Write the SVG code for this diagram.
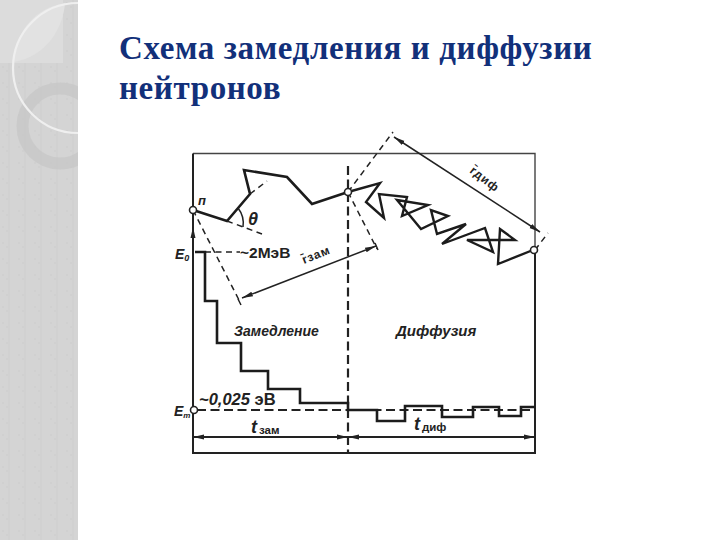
<svg xmlns="http://www.w3.org/2000/svg" width="720" height="540" viewBox="0 0 720 540">
<style>
.title{font-family:"Liberation Serif",serif;font-weight:bold;font-size:33px;letter-spacing:0.600px;fill:#12307a}
.lab{font-family:"Liberation Sans",sans-serif;font-style:italic;font-weight:bold;fill:#222}
.up{font-family:"Liberation Sans",sans-serif;font-weight:bold;fill:#222}
.thick{fill:none;stroke:#1c1c1c;stroke-width:2.600;stroke-linejoin:miter}
.zig{fill:none;stroke:#1c1c1c;stroke-width:2.400;stroke-linejoin:miter}
.frame{fill:none;stroke:#444;stroke-width:1.400}
.side{fill:none;stroke:#222;stroke-width:2}
.thin{fill:none;stroke:#222;stroke-width:1.500}
.axis{fill:none;stroke:#222;stroke-width:2}
.dash{fill:none;stroke:#222;stroke-width:1.500;stroke-dasharray:6 4.500}
.dashb{fill:none;stroke:#222;stroke-width:2.200;stroke-dasharray:9 4.500}
.node{fill:#fff;stroke:#222;stroke-width:1.600}
</style>
<defs>
<pattern id="dots" width="16" height="16" patternUnits="userSpaceOnUse"><rect width="16" height="16" fill="#d4d4d4"/><rect x="8" width="2" height="16" fill="#d1d1d1"/><rect x="2" y="2" width="2" height="2" fill="#d0d0d0"/><rect x="6" y="6" width="2" height="2" fill="#d0d0d0"/></pattern>
<clipPath id="strip"><rect width="78" height="540"/></clipPath>
<marker id="ah" markerWidth="12" markerHeight="8" refX="11" refY="4" orient="auto-start-reverse" markerUnits="userSpaceOnUse"><path d="M0 1.500L11 4L0 6.500z" fill="#222"/></marker>
</defs>
<rect width="720" height="540" fill="#fff"/>
<g id="backdrop" clip-path="url(#strip)">
<rect width="78" height="540" fill="url(#dots)"/>
<rect width="63" height="63" fill="#dcdcdc"/>
<path d="M65 3C63 28 47 56 14 62C16 30 35 8 65 3z" fill="#e2e2e2"/>
<circle cx="60" cy="126" r="37.500" fill="none" stroke="#c6c6c6" stroke-opacity="0.700" stroke-width="12"/>
<circle cx="78" cy="68" r="65" fill="none" stroke="#efefef" stroke-width="2.200"/>
</g>
<g id="title">
<text class="title" x="119" y="59">Схема замедления и диффузии</text>
<text class="title" x="119" y="99">нейтронов</text>
</g>
<g id="connectors">
<path class="frame" d="M193 153.500H535V250"/>
<path class="side" d="M193 153.500V453H535V250"/>
<path class="dashb" d="M348 166V453"/>
<path class="thick" d="M193 210L227 221L250 194L244 170L287 177L312 204L348 192"/>
<path class="zig" d="M348 192L380 183L366 202L384 218L379 194L407 197L402 216L428 205L397 200L421 229L448 216L431 210L437 234L466 224L442 244L485 228L493 252L467 240L515 240L500 229L498 264L533 250"/>
<path class="dash" d="M227 221L262 234M250 194L267 181M193 210L240 302M348 192L377 249M348 192L393 132M535 250L548 233M205 252H240"/>
<path class="dashb" d="M197 410H535"/>
<path class="thick" d="M195 252H205V301H217V343H241V371H268V389H300V403H348V410H377V421H405V406H442V417H473V407H499V416H521V407H535"/>
<path class="thin" d="M238 208A25 25 0 0 1 243 227"/>
<path class="thin" marker-end="url(#ah)" d="M193 250V227"/>
<path class="thin" marker-start="url(#ah)" marker-end="url(#ah)" d="M242 298L376 246"/>
<path class="thin" d="M238 299L241 305M375 243L378 250"/>
<path class="thin" marker-start="url(#ah)" marker-end="url(#ah)" d="M394 137L540 232"/>
<path class="axis" marker-start="url(#ah)" marker-end="url(#ah)" d="M193 437H348"/>
<path class="axis" marker-start="url(#ah)" marker-end="url(#ah)" d="M348 437H535"/>
</g>
<g id="node-n"><circle class="node" cx="193" cy="210" r="3.500"/><text class="lab" x="198" y="205" font-size="13">п</text></g>
<g id="node-mid"><circle class="node" cx="348" cy="192" r="3.500"/></g>
<g id="node-end"><circle class="node" cx="534" cy="250" r="3.500"/></g>
<g id="node-et"><circle class="node" cx="194" cy="410" r="3.500"/><text class="lab" x="174" y="416" font-size="14">E<tspan font-size="8" dy="2">т</tspan></text></g>
<g id="labels">
<text class="lab" x="248" y="225" font-size="18">θ</text>
<text class="lab" x="175" y="259" font-size="14">E<tspan font-size="9" dy="2">0</tspan></text>
<text class="up" x="240" y="258" font-size="15.500">~2МэВ</text>
<text class="up" x="304" y="264" font-size="12" letter-spacing="0.800" transform="rotate(-22 304 264)">r̄зам</text>
<text class="up" x="469" y="172" font-size="12" letter-spacing="0.800" transform="rotate(38 469 172)">r̄диф</text>
<text class="lab" x="234" y="336" font-size="14">Замедление</text>
<text class="lab" x="396" y="336" font-size="15">Диффузия</text>
<text class="lab" x="199" y="405" font-size="16.500">~0,025 <tspan class="up" font-style="normal">эВ</tspan></text>
<text class="lab" x="251" y="433" font-size="18">t<tspan class="up" font-style="normal" font-size="11.500" dy="1" dx="2">зам</tspan></text>
<text class="lab" x="414" y="430" font-size="18">t<tspan class="up" font-style="normal" font-size="11.500" dy="1" dx="2">диф</tspan></text>
</g>
</svg>
